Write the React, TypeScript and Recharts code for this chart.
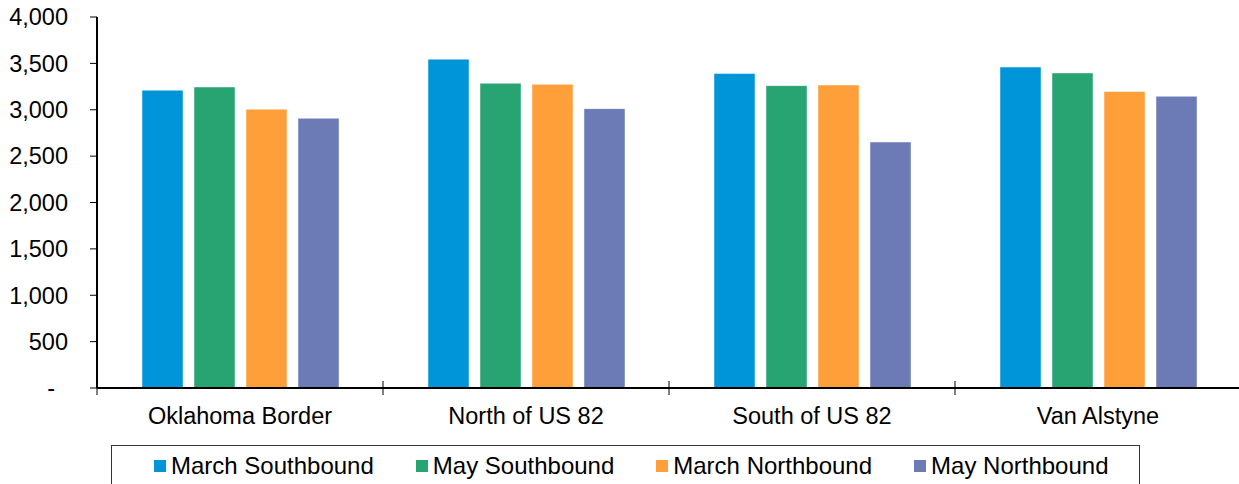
import React from "react";
import { BarChart, Bar, XAxis, YAxis } from "recharts";

const categories = ["Oklahoma Border", "North of US 82", "South of US 82", "Van Alstyne"];
const marchSouthbound = [3210, 3545, 3390, 3460];
const maySouthbound = [3245, 3285, 3260, 3397];
const marchNorthbound = [3005, 3274, 3267, 3196];
const mayNorthbound = [2908, 3012, 2652, 3145];
const yTicks = [0, 500, 1000, 1500, 2000, 2500, 3000, 3500, 4000];

const series = [
  { key: "marchSouthbound", name: "March Southbound", color: "#0095D9", values: marchSouthbound },
  { key: "maySouthbound", name: "May Southbound", color: "#28A472", values: maySouthbound },
  { key: "marchNorthbound", name: "March Northbound", color: "#FF9F3A", values: marchNorthbound },
  { key: "mayNorthbound", name: "May Northbound", color: "#6C7BB6", values: mayNorthbound },
];

const data = categories.map((c, i) => {
  const row: Record<string, any> = { category: c };
  series.forEach((s) => (row[s.key] = s.values[i]));
  return row;
});

const FONT = '"Liberation Sans", Arial, sans-serif';
const CHART_W = 1245;
const CHART_H = 484;
const MARGIN = { top: 17, right: 4, bottom: 36, left: 0 };
const Y_W = 97;
const X_H = 60;
const PLOT_W = CHART_W - MARGIN.left - MARGIN.right - Y_W;
const HALF_BAND = PLOT_W / categories.length / 2;
const X_TICK_SIZE = 7;
const X_TICK_MARGIN = 12;
const AXIS_FS = 23.5;
const LEGEND_FS = 24;

const YTick = (props: any) => {
  const { x, y, payload } = props;
  const v = payload.value as number;
  const label = v === 0 ? "-" : v.toLocaleString("en-US");
  return (
    <text
      x={v === 0 ? x - 13 : x}
      y={y}
      dy="0.355em"
      textAnchor="end"
      fill="#000"
      fontFamily={FONT}
      fontSize={AXIS_FS}
    >
      {label}
    </text>
  );
};

const XTick = (props: any) => {
  const { x, y, payload, index } = props;
  const axisY = y - X_TICK_SIZE - X_TICK_MARGIN;
  const last = index === categories.length - 1;
  return (
    <g>
      <line x1={x - HALF_BAND} x2={x - HALF_BAND} y1={axisY - 7} y2={axisY + 7} stroke="#000" strokeWidth={1} />
      {last && (
        <line x1={x + HALF_BAND} x2={x + HALF_BAND} y1={axisY - 7} y2={axisY + 7} stroke="#000" strokeWidth={1} />
      )}
      <text
        x={x}
        y={y}
        dy="0.71em"
        textAnchor="middle"
        fill="#000"
        fontFamily={FONT}
        fontSize={AXIS_FS}
      >
        {payload.value}
      </text>
    </g>
  );
};

export default function App() {
  return (
    <div
      style={{
        position: "absolute",
        left: 0,
        top: 0,
        width: 1239,
        height: 484,
        overflow: "hidden",
        background: "#fff",
        fontFamily: FONT,
      }}
    >
      <BarChart
        width={CHART_W}
        height={CHART_H}
        data={data}
        margin={MARGIN}
        barCategoryGap={45}
        barGap={11}
      >
        <YAxis
          type="number"
          domain={[0, 4000]}
          ticks={yTicks}
          interval={0}
          width={Y_W}
          tickSize={7}
          tickMargin={22}
          axisLine={{ stroke: "#000", strokeWidth: 2 }}
          tickLine={{ stroke: "#000", strokeWidth: 1 }}
          tick={<YTick />}
        />
        <XAxis
          dataKey="category"
          height={X_H}
          interval={0}
          tickSize={X_TICK_SIZE}
          tickMargin={X_TICK_MARGIN}
          axisLine={{ stroke: "#000", strokeWidth: 2 }}
          tickLine={false}
          tick={<XTick />}
        />
        {series.map((s) => (
          <Bar
            key={s.key}
            dataKey={s.key}
            name={s.name}
            fill={s.color}
            stroke="#ffffff"
            strokeOpacity={0.45}
            strokeWidth={1}
            isAnimationActive={false}
          />
        ))}
      </BarChart>
      <div
        style={{
          position: "absolute",
          left: 111,
          top: 445,
          width: 1029,
          height: 60,
          border: "1px solid #333",
          boxSizing: "border-box",
          display: "flex",
          alignItems: "flex-start",
          paddingLeft: 42,
          paddingTop: 5,
        }}
      >
        {series.map((s) => (
          <div
            key={s.key}
            style={{ display: "flex", alignItems: "center", height: 30, marginRight: 42 }}
          >
            <div style={{ width: 12, height: 12, background: s.color, marginRight: 5 }} />
            <span style={{ fontSize: LEGEND_FS, color: "#000", whiteSpace: "nowrap" }}>
              {s.name}
            </span>
          </div>
        ))}
      </div>
    </div>
  );
}
